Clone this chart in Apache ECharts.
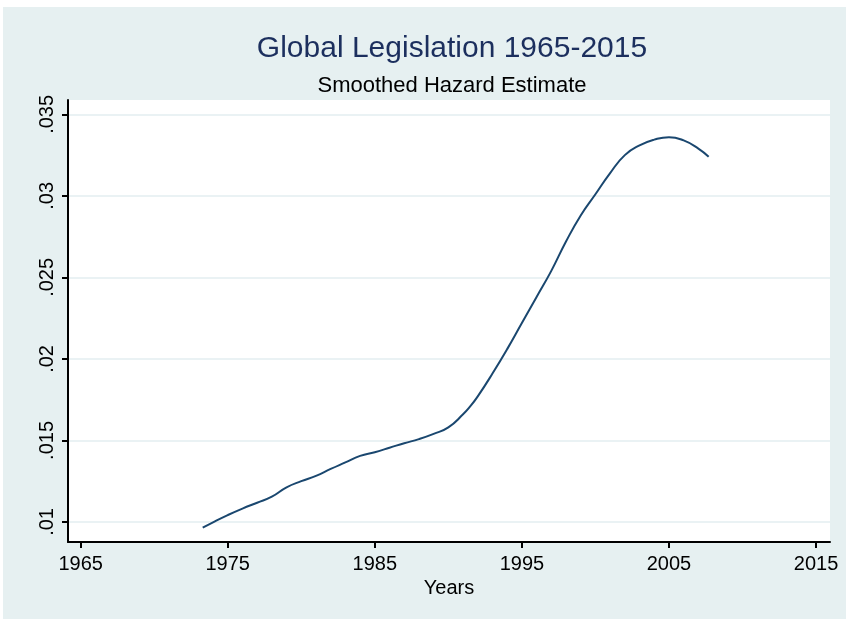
<!DOCTYPE html>
<html>
<head>
<meta charset="utf-8">
<script src="https://cdn.jsdelivr.net/npm/echarts@6/dist/echarts.min.js"></script>
<style>
  html, body { margin: 0; padding: 0; background: #ffffff; }
  #chart { position: absolute; left: 3px; top: 7px; width: 843px; height: 612px; background: #e6f0f1; }
</style>
</head>
<body>
<div id="chart"></div>
<script>
// Data
const years = [1973.3, 1974, 1975, 1976, 1977, 1978, 1979, 1980, 1981, 1982, 1983, 1984, 1985, 1986, 1987, 1988, 1989, 1990, 1991, 1991.5, 1992, 1993, 1994, 1995, 1996, 1997, 1998, 1999, 2000, 2001, 2002, 2003, 2004, 2005, 2006, 2007, 2007.7];
const hazard = [0.00965, 0.00998, 0.01042, 0.01082, 0.01118, 0.01155, 0.01212, 0.01250, 0.01283, 0.01325, 0.01365, 0.01405, 0.01428, 0.01455, 0.01483, 0.01508, 0.01540, 0.01580, 0.01660, 0.01710, 0.01770, 0.01910, 0.02060, 0.02220, 0.02380, 0.02540, 0.02720, 0.02880, 0.03010, 0.03140, 0.03250, 0.03310, 0.03345, 0.03360, 0.03340, 0.03290, 0.03240];
const xTickValues = [1965, 1975, 1985, 1995, 2005, 2015];
const yTickValues = [0.01, 0.015, 0.02, 0.025, 0.03, 0.035];
const yTickLabels = ['.01', '.015', '.02', '.025', '.03', '.035'];
const titleText = 'Global Legislation 1965-2015';
const subtitleText = 'Smoothed Hazard Estimate';
const xName = 'Years';

const chart = echarts.init(document.getElementById('chart'), null, { renderer: 'canvas' });
const font = 'Liberation Sans, Arial, sans-serif';
const option = {
  animation: false,
  backgroundColor: '#e6f0f1',
  title: [
    { text: titleText, left: 444, textAlign: 'center', top: 22,
      textStyle: { fontFamily: font, fontSize: 30, fontWeight: 'normal', color: '#1c2f5e' } },
    { text: subtitleText, left: 444, textAlign: 'center', top: 63,
      textStyle: { fontFamily: font, fontSize: 22, fontWeight: 'normal', color: '#000' } }
  ],
  grid: { left: 65, top: 93, right: 16, bottom: 77, show: true, backgroundColor: '#ffffff', borderWidth: 0 },
  xAxis: {
    type: 'value', min: 1964.14, max: 2015.95,
    name: xName, nameLocation: 'middle', nameGap: 35,
    nameTextStyle: { fontFamily: font, fontSize: 20, color: '#000' },
    axisLine: { show: true, lineStyle: { color: '#000', width: 2 } },
    axisTick: { show: true, customValues: xTickValues, length: 6, lineStyle: { color: '#000', width: 2 } },
    axisLabel: { customValues: xTickValues, fontFamily: font, fontSize: 20, color: '#000', margin: 12,
      formatter: v => String(v) },
    splitLine: { show: false }
  },
  yAxis: {
    type: 'value', min: 0.00877, max: 0.03588,
    axisLine: { show: true, lineStyle: { color: '#000', width: 2 } },
    axisTick: { show: true, customValues: yTickValues, length: 6, lineStyle: { color: '#000', width: 2 } },
    axisLabel: { customValues: yTickValues, fontFamily: font, fontSize: 20, color: '#000', margin: 11, rotate: 90,
      formatter: v => { const i = yTickValues.findIndex(t => Math.abs(t - v) < 1e-9); return i >= 0 ? yTickLabels[i] : ''; } },
    splitLine: { show: true, lineStyle: { color: '#e3eef0', width: 1.5 } }
  },
  series: [{
    type: 'line',
    data: years.map((y, i) => [y, hazard[i]]),
    smooth: true,
    showSymbol: false,
    lineStyle: { color: '#1a476f', width: 2 },
    itemStyle: { color: '#1a476f' }
  }]
};
chart.setOption(option);
</script>
</body>
</html>
